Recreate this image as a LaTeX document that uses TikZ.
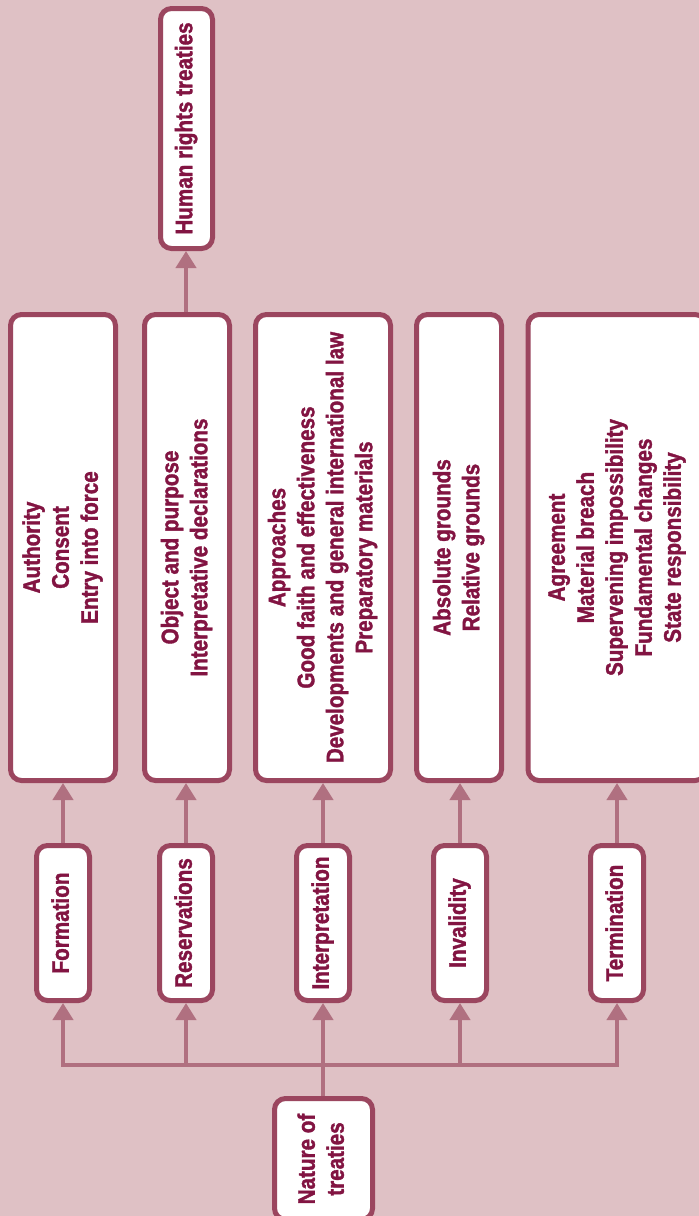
\documentclass[tikz,border=0pt]{standalone}
\usepackage{fontspec}
\usepackage{graphicx}
\setmainfont{Liberation Sans Bold}[FakeStretch=0.86, FakeBold=1.5]
\usetikzlibrary{arrows.meta}
\definecolor{bg}{RGB}{223,193,197}
\definecolor{frame}{RGB}{155,70,95}
\definecolor{link}{RGB}{176,112,128}
\definecolor{ink}{RGB}{130,20,66}
\newcommand{\vtext}[1]{\rotatebox{90}{\begin{tabular}{@{}c@{}}#1\end{tabular}}}
\tikzset{
  box/.style={draw=frame, line width=5pt, fill=white, rounded corners=11pt,
    inner sep=0pt, text=ink, font=\fontsize{24}{29}\selectfont},
  arr/.style={draw=link, line width=4pt,
    -{Triangle[width=20pt,length=17pt]}},
}
\begin{document}
\begin{tikzpicture}[x=1pt,y=-1pt]
\useasboundingbox (0,0) rectangle (699,1216);
\fill[bg] (0,0) rectangle (699,1216);
\clip (0,0) rectangle (699,1216);

% outcome
\node[box, minimum width=52pt, minimum height=240pt] (hr) at (186.5,128.5) {\vtext{Human rights treaties}};

% topic details
\node[box, minimum width=105pt, minimum height=466pt] (d1) at (63,547.5) {\vtext{Authority\\Consent\\Entry into force}};
\node[box, minimum width=85pt, minimum height=466pt] (d2) at (187,547.5) {\vtext{Object and purpose\\Interpretative declarations}};
\node[box, minimum width=135pt, minimum height=466pt] (d3) at (323,547.5) {\vtext{Approaches\\Good faith and effectiveness\\Developments and general international law\\Preparatory materials}};
\node[box, minimum width=85pt, minimum height=466pt] (d4) at (459,547.5) {\vtext{Absolute grounds\\Relative grounds}};
\node[box, minimum width=178pt, minimum height=466pt] (d5) at (617,547.5) {\vtext{Agreement\\Material breach\\Supervening impossibility\\Fundamental changes\\State responsibility}};

% topics
\node[box, minimum width=53pt, minimum height=155pt] (t1) at (63,923) {\vtext{Formation}};
\node[box, minimum width=53pt, minimum height=155pt] (t2) at (186,923) {\vtext{Reservations}};
\node[box, minimum width=53pt, minimum height=155pt] (t3) at (323,923) {\vtext{Interpretation}};
\node[box, minimum width=53pt, minimum height=155pt] (t4) at (460,923) {\vtext{Invalidity}};
\node[box, minimum width=53pt, minimum height=155pt] (t5) at (617,923) {\vtext{Termination}};

% root
\node[box, minimum width=98pt, minimum height=121pt] (nat) at (323.5,1159) {\vtext{Nature of\\treaties}};

% connectors
\coordinate (bus) at (323,1065);
\draw[arr] (nat.north -| t3) -- (t3.south);
\foreach \t in {t1,t2,t4,t5}
  \draw[arr] (nat.north -| t3) -- (bus) -| (\t.south);
\draw[arr] (t1.north) -- (t1.north |- d1.south);
\draw[arr] (t2.north) -- (t2.north |- d2.south);
\draw[arr] (t3.north) -- (t3.north |- d3.south);
\draw[arr] (t4.north) -- (t4.north |- d4.south);
\draw[arr] (t5.north) -- (t5.north |- d5.south);
\draw[arr] (t2.north |- d2.north) -- (t2.north |- hr.south);
\end{tikzpicture}
\end{document}
